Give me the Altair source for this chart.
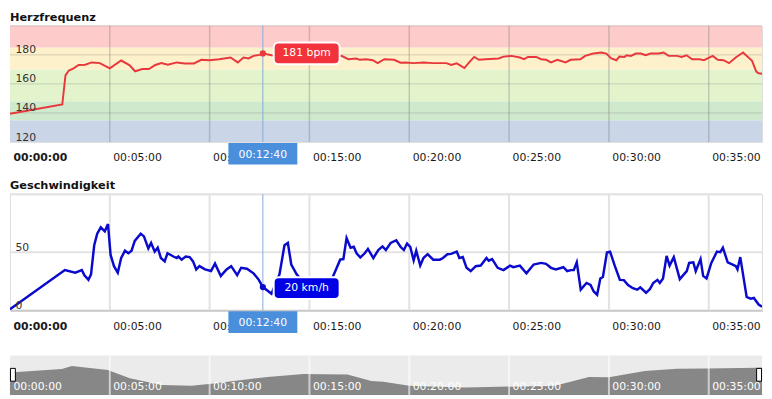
import altair as alt
import pandas as pd

FONT = "DejaVu Sans"
W = 764
H = 118
NAV_H = 40
X_MAX = 37.67

# ---------------- data ----------------
panel_titles = ["Herzfrequenz", "Geschwindigkeit"]
x_ticks = [0, 5, 10, 15, 20, 25, 30, 35]
grid_ticks = [5, 10, 15, 20, 25, 30, 35]

hr_min = [0.0, 2.62, 2.78, 2.95, 3.19, 3.44, 3.77, 4.09, 4.5, 5.0, 5.57, 5.98, 6.27, 6.63,
          6.96, 7.28, 7.58, 7.91, 8.35, 8.76, 9.22, 9.58, 9.99, 10.48, 11.05, 11.41, 11.7,
          11.95, 12.2, 12.5, 12.67, 13.1, 13.6, 14.2, 14.8, 15.4, 16.0, 16.6, 16.95, 17.35,
          17.52, 17.85, 18.17, 18.42, 18.75, 19.24, 19.56, 19.81, 20.22, 20.71, 21.2, 21.86,
          22.1, 22.38, 22.76, 23.0, 23.25, 23.49, 23.82, 24.48, 24.72, 25.13, 25.54, 25.75,
          25.95, 26.36, 26.6, 26.85, 27.1, 27.42, 27.83, 28.08, 28.57, 28.81, 29.22, 29.63,
          29.87, 30.12, 30.37, 30.53, 30.78, 30.89, 31.1, 31.35, 31.6, 31.84, 32.09, 32.5,
          32.74, 32.99, 33.4, 33.64, 33.89, 34.17, 34.54, 34.76, 35.2, 35.45, 35.74, 36.02,
          36.35, 36.72, 37.17, 37.38, 37.5, 37.67]
hr_bpm = [139.5, 145.8, 165.8, 169.2, 170.7, 173.0, 173.2, 174.8, 174.3, 170.7, 176.1, 173.0,
          168.7, 170.2, 170.2, 173.0, 174.3, 173.2, 174.8, 174.1, 174.1, 176.6, 176.3, 177.0,
          178.2, 174.8, 178.2, 177.5, 179.3, 180.0, 181.0, 179.7, 179.0, 178.2, 178.8, 177.8,
          178.5, 179.3, 177.0, 177.5, 176.6, 177.0, 176.3, 174.3, 177.0, 176.6, 174.6, 174.8,
          174.3, 174.8, 174.3, 174.3, 173.0, 174.1, 170.9, 174.8, 178.6, 176.6, 177.0, 177.5,
          178.8, 179.3, 178.2, 177.0, 178.6, 178.6, 177.0, 176.6, 174.8, 176.6, 174.8, 176.6,
          177.0, 179.3, 180.9, 181.6, 180.9, 177.5, 176.3, 178.8, 178.6, 179.7, 179.3, 180.9,
          180.9, 179.7, 180.9, 180.9, 181.6, 179.3, 179.3, 178.6, 179.7, 177.0, 177.0, 176.3,
          179.3, 176.6, 176.3, 174.3, 178.2, 181.6, 175.9, 168.5, 167.3, 167.0]

zone_low = [120, 135, 148, 170, 185]
zone_high = [135, 148, 170, 185, 200]
zone_color = ["#cbd5e8", "#cfe9cd", "#e3f4cd", "#fdf1cb", "#fecbcb"]
hr_ticks = [120, 140, 160, 180]
hr_grid = [140, 160, 180, 200]

speed_min = [0.0, 2.75, 3.27, 3.6, 3.73, 3.93, 4.06, 4.22, 4.37, 4.55, 4.75, 4.91, 5.04, 5.21,
             5.4, 5.57, 5.76, 5.93, 6.09, 6.25, 6.55, 6.71, 6.93, 7.07, 7.25, 7.4, 7.56, 7.75,
             7.89, 8.19, 8.35, 8.43, 8.6, 8.8, 9.0, 9.17, 9.33, 9.49, 9.77, 10.07, 10.27, 10.56,
             10.85, 11.08, 11.38, 11.58, 11.87, 12.2, 12.44, 12.67, 13.1, 13.5, 13.75, 13.92,
             14.09, 14.36, 14.7, 15.1, 15.5, 15.9, 16.1, 16.26, 16.54, 16.7, 16.86, 17.06,
             17.22, 17.36, 17.55, 17.77, 17.93, 18.2, 18.45, 18.66, 18.83, 19.07, 19.35, 19.56,
             19.73, 19.89, 20.05, 20.22, 20.35, 20.55, 20.71, 20.92, 21.2, 21.53, 21.69, 21.91,
             22.1, 22.38, 22.51, 22.68, 22.87, 23.08, 23.33, 23.58, 23.87, 23.98, 24.15, 24.43,
             24.72, 25.05, 25.21, 25.54, 25.87, 26.23, 26.6, 26.85, 27.1, 27.34, 27.72, 27.91,
             28.1, 28.24, 28.39, 28.59, 28.88, 29.08, 29.24, 29.41, 29.57, 29.7, 29.9, 30.06,
             30.3, 30.55, 30.75, 30.96, 31.2, 31.42, 31.57, 31.86, 32.06, 32.22, 32.43, 32.55,
             32.71, 32.89, 33.04, 33.25, 33.55, 33.9, 34.02, 34.23, 34.35, 34.59, 34.72, 34.89,
             35.13, 35.41, 35.58, 35.71, 35.95, 36.2, 36.36, 36.44, 36.58, 36.9, 37.1, 37.26,
             37.5, 37.67]
speed_kmh = [1, 34.6, 32.4, 34.6, 30.2, 26.2, 31, 56, 66, 71.4, 68, 74.3, 47.7, 38, 32.4, 45,
             51.3, 49.1, 51.3, 59.7, 66, 63.6, 53.3, 58, 50.5, 53.9, 45, 42.1, 49.1, 46.3, 45,
             46.3, 43.6, 46.3, 45.8, 42.1, 35.2, 38, 35.2, 33.8, 40.2, 29.6, 35.2, 38, 30.2, 36.6,
             35.8, 31.8, 26.8, 20, 14.2, 31, 56, 58, 39.4, 31, 24, 19, 17, 21, 26, 32.4, 43.6,
             44.1, 62.2, 53.9, 54.7, 49.1, 45.5, 49.1, 52.8, 45, 51.9, 55, 51.9, 58, 60.3, 54.7,
             51.9, 57.5, 54.7, 43, 51.3, 38.5, 45, 48.3, 43.6, 43.6, 45, 48.3, 48.6, 50.5, 45,
             45.8, 36.6, 33.8, 38, 38.5, 45, 42.7, 44.1, 36.6, 34.6, 38.5, 37.1, 38.5, 31.8, 39.4,
             40.8, 40, 36.6, 35.2, 37.1, 33.8, 34.6, 34.6, 41.3, 17.8, 23.5, 21.8, 16.2, 13.4,
             27.4, 28.7, 49.7, 50.5, 38, 26.2, 26, 21.8, 19, 17.8, 19.8, 15.1, 18.4, 23.5, 26.2,
             23.5, 27.4, 46.9, 38.5, 45.8, 26.8, 33.8, 40.8, 41.3, 33.8, 44.1, 29.6, 27.4, 40.8,
             50.5, 50, 53.9, 41.3, 39.4, 38, 35.2, 45.8, 11.5, 10, 10.6, 5, 3]
speed_ticks = [0, 50]
speed_grid = [50, 100]

nav_min = [0, 2.6, 3.1, 4.9, 6.0, 7.6, 9.1, 10.2, 12.9, 14.7, 16.9, 18.1, 18.7, 20.0, 22.8,
           27.3, 29.0, 30.0, 31.8, 33.4, 34.9, 37.4, 37.67]
nav_hoehe = [22.7, 26.3, 29.3, 25.3, 17, 10, 9.3, 11.7, 18.3, 21.3, 20.7, 14.3, 13.5, 9.3, 7.7,
             9.3, 18.3, 18, 24.3, 26.7, 27, 27.7, 27.7]

cursor_min = 12 + 40 / 60
cursor_time = "00:12:40"
cursor_bpm = 181
cursor_kmh = 20

# ---------------- helpers ----------------
LABEL_EXPR = "'00:' + (datum.value < 10 ? '0' : '') + datum.value + ':00'"
xscale = alt.Scale(domain=[0, X_MAX], nice=False, zero=False)


def x_axis(domain=False, nav=False):
    kw = dict(
        values=x_ticks, labelExpr=LABEL_EXPR, labelAlign="left", labelOffset=3,
        labelPadding=-15 if nav else 10, labelBaseline="top", ticks=False, tickSize=0,
        grid=False, domain=domain, domainColor="#c8c8c8", domainWidth=2,
        labelFontSize=11, labelFont=FONT, labelColor="#ffffff" if nav else "#1a1a1a",
        labelOverlap=False, labelFlush=False, labelBound=False,
        zindex=1 if nav else 0, title=None)
    if nav:
        kw["labelFontWeight"] = "normal"
    else:
        kw["labelFontWeight"] = {"condition": {"test": "datum.value == 0", "value": "bold"},
                                 "value": "normal"}
    return alt.Axis(**kw)


def y_axis(values):
    return alt.Axis(
        values=values, orient="left",
        labelAlign="left", labelPadding=-5, labelBaseline="bottom",
        ticks=False, tickSize=0, domain=False, grid=False, labelFontSize=11, labelFont=FONT,
        labelColor="#333333", title=None, zindex=1, labelOverlap=False, labelFlush=False,
        labelBound=False)


def panel_title(text):
    df = pd.DataFrame({"title": [text]})
    return alt.Chart(df).mark_text(fontSize=11.5, fontWeight="bold", font=FONT, color="#111111",
                                   align="left", baseline="alphabetic", clip=False).encode(
        x=alt.value(0), y=alt.value(-5), text="title:N")


cur_df = pd.DataFrame({"t": [cursor_min], "bpm": [cursor_bpm], "kmh": [cursor_kmh],
                       "hr_txt": [f"{cursor_bpm} bpm"], "sp_txt": [f"{cursor_kmh} km/h"],
                       "time": [cursor_time]})
vgrid_df = pd.DataFrame({"g": grid_ticks})


def cursor_axis_box():
    box = alt.Chart(cur_df).mark_rect(fill="#4a8fdc", xOffset=-35, x2Offset=35, clip=False).encode(
        x=alt.X("t:Q", scale=xscale), x2="t", y=alt.value(H + 1), y2=alt.value(H + 23))
    txt = alt.Chart(cur_df).mark_text(color="white", fontSize=11, font=FONT, align="center",
                                      baseline="middle", clip=False).encode(
        x=alt.X("t:Q", scale=xscale), y=alt.value(H + 13), text="time:N")
    return [box, txt]


# ---------------- Herzfrequenz ----------------
hr_df = pd.DataFrame({"t": hr_min, "bpm": hr_bpm})
zones_df = pd.DataFrame({"lo": zone_low, "hi": zone_high, "c": zone_color})
hgrid_hr = pd.DataFrame({"v": hr_grid})
yhr = alt.Scale(domain=[120, 200], nice=False, zero=False)
yax_hr = y_axis(hr_ticks)

hr_layers = [
    alt.Chart(zones_df).mark_rect().encode(
        y=alt.Y("lo:Q", scale=yhr, axis=yax_hr), y2="hi:Q",
        color=alt.Color("c:N", scale=None)),
    alt.Chart(vgrid_df).mark_rule(color="#777777", opacity=0.35, strokeWidth=1.5).encode(
        x=alt.X("g:Q", scale=xscale, axis=x_axis())),
    alt.Chart(hgrid_hr).mark_rule(color="#777777", opacity=0.3, strokeWidth=1).encode(
        y=alt.Y("v:Q", scale=yhr, axis=yax_hr)),
    alt.Chart(hr_df).mark_line(color="#e8383d", strokeWidth=2, clip=True).encode(
        x=alt.X("t:Q", scale=xscale), y=alt.Y("bpm:Q", scale=yhr, axis=yax_hr)),
    alt.Chart(cur_df).mark_rule(color="#86acd8", strokeWidth=1).encode(
        x=alt.X("t:Q", scale=xscale)),
    alt.Chart(cur_df).mark_circle(color="#e8383d", size=40, opacity=1).encode(
        x=alt.X("t:Q", scale=xscale), y=alt.Y("bpm:Q", scale=yhr, axis=yax_hr)),
    alt.Chart(cur_df).mark_rect(fill="#f2333b", stroke="white", strokeWidth=2, cornerRadius=5,
                                xOffset=11, x2Offset=78, yOffset=-11, y2Offset=11).encode(
        x=alt.X("t:Q", scale=xscale), x2="t", y=alt.Y("bpm:Q", scale=yhr, axis=yax_hr),
        y2="bpm"),
    alt.Chart(cur_df).mark_text(color="white", fontSize=11, font=FONT, dx=44.5, align="center",
                                baseline="middle").encode(
        x=alt.X("t:Q", scale=xscale), y=alt.Y("bpm:Q", scale=yhr, axis=yax_hr),
        text="hr_txt:N"),
    panel_title(panel_titles[0]),
] + cursor_axis_box()

hr_chart = alt.layer(*hr_layers).properties(width=W, height=H)

# ---------------- Geschwindigkeit ----------------
sp_df = pd.DataFrame({"t": speed_min, "kmh": speed_kmh})
hgrid_sp = pd.DataFrame({"v": speed_grid})
ysp = alt.Scale(domain=[0, 100], nice=False, zero=True)
yax_sp = y_axis(speed_ticks)

sp_layers = [
    alt.Chart(vgrid_df).mark_rule(color="#e2e2e2", strokeWidth=2).encode(
        x=alt.X("g:Q", scale=xscale, axis=x_axis(domain=True))),
    alt.Chart(hgrid_sp).mark_rule(color="#e2e2e2", strokeWidth=2).encode(
        y=alt.Y("v:Q", scale=ysp, axis=yax_sp)),
    alt.Chart(sp_df).mark_line(color="#0a0acc", strokeWidth=2.5, clip=True).encode(
        x=alt.X("t:Q", scale=xscale), y=alt.Y("kmh:Q", scale=ysp, axis=yax_sp)),
    alt.Chart(cur_df).mark_rule(color="#86acd8", strokeWidth=1).encode(
        x=alt.X("t:Q", scale=xscale)),
    alt.Chart(cur_df).mark_circle(color="#0a0acc", size=40, opacity=1).encode(
        x=alt.X("t:Q", scale=xscale), y=alt.Y("kmh:Q", scale=ysp, axis=yax_sp)),
    alt.Chart(cur_df).mark_rect(fill="#0000e6", stroke="white", strokeWidth=2, cornerRadius=5,
                                xOffset=11, x2Offset=78, yOffset=-10, y2Offset=12).encode(
        x=alt.X("t:Q", scale=xscale), x2="t", y=alt.Y("kmh:Q", scale=ysp, axis=yax_sp),
        y2="kmh"),
    alt.Chart(cur_df).mark_text(color="white", fontSize=11, font=FONT, dx=44.5, dy=1,
                                align="center", baseline="middle").encode(
        x=alt.X("t:Q", scale=xscale), y=alt.Y("kmh:Q", scale=ysp, axis=yax_sp),
        text="sp_txt:N"),
    panel_title(panel_titles[1]),
] + cursor_axis_box()

sp_chart = alt.layer(*sp_layers).properties(width=W, height=H)

# ---------------- Navigator ----------------
nav_df = pd.DataFrame({"t": nav_min, "h": nav_hoehe})
handles = pd.DataFrame({"t": [0.0, X_MAX]})
ynav = alt.Scale(domain=[0, 40], nice=False, zero=True)

nav_chart = alt.layer(
    alt.Chart(nav_df).mark_area(color="#878787", opacity=1).encode(
        x=alt.X("t:Q", scale=xscale, axis=x_axis(nav=True)),
        y=alt.Y("h:Q", scale=ynav, axis=None)),
    alt.Chart(vgrid_df).mark_rule(color="white", opacity=0.6, strokeWidth=2).encode(
        x=alt.X("g:Q", scale=xscale)),
    alt.Chart(handles.iloc[[0]]).mark_rect(fill="white", stroke="black", strokeWidth=1,
                                           xOffset=0.5, x2Offset=5.5).encode(
        x=alt.X("t:Q", scale=xscale), x2="t", y=alt.value(13), y2=alt.value(26)),
    alt.Chart(handles.iloc[[1]]).mark_rect(fill="white", stroke="black", strokeWidth=1,
                                           xOffset=-5.5, x2Offset=-0.5).encode(
        x=alt.X("t:Q", scale=xscale), x2="t", y=alt.value(13), y2=alt.value(26)),
).properties(width=W, height=NAV_H,
             view=alt.ViewBackground(fill="#ebebeb", strokeWidth=0))

top = alt.vconcat(hr_chart, sp_chart, spacing=53, bounds="flush")
chart = alt.vconcat(top, nav_chart, spacing=21).properties(
    padding=0
).configure_view(strokeWidth=0).configure(font=FONT, background="white")

chart.save("out.html", embed_options={"renderer": "svg", "actions": False})
